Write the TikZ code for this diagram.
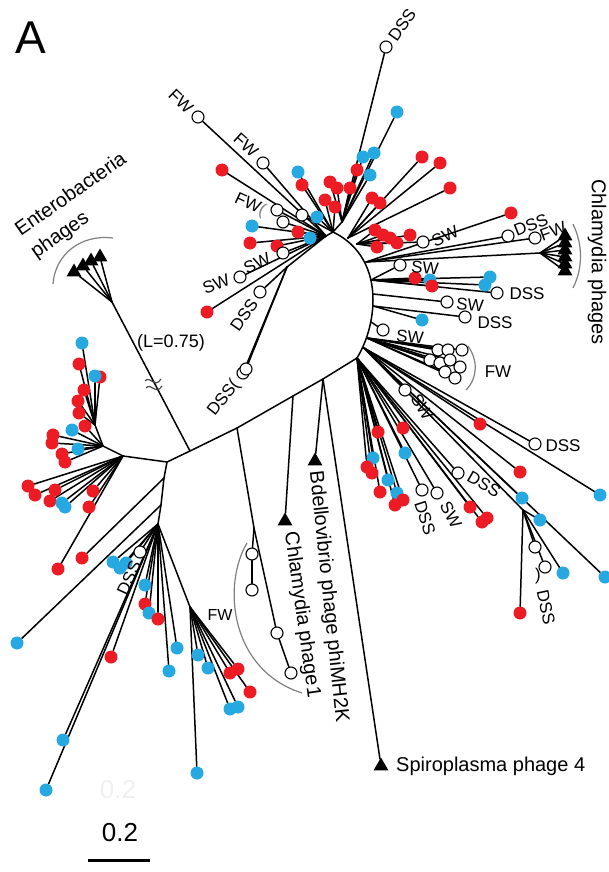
\documentclass[tikz,border=0pt]{standalone}
\usepackage{fontspec}
\setmainfont{Liberation Sans}
\usetikzlibrary{shapes.geometric,backgrounds}
\definecolor{TipRed}{RGB}{237,28,36}
\definecolor{TipBlue}{RGB}{38,169,224}
\pgfdeclarelayer{paper}
\pgfsetlayers{paper,background,main}

\begin{document}
\begin{tikzpicture}[x=1pt, y=-1pt,
    branch/.style={line width=1.5pt, line cap=round},
    rleaf/.style={circle, fill=TipRed, inner sep=0pt, minimum size=13pt},
    bleaf/.style={circle, fill=TipBlue, inner sep=0pt, minimum size=13pt},
    oleaf/.style={circle, draw, line width=1.1pt, fill=white, inner sep=0pt, minimum size=12pt},
    phage/.style={regular polygon, regular polygon sides=3, fill=black, inner sep=0pt, minimum size=17pt},
    tag/.style={font=\fontsize{17}{17}\selectfont, inner sep=0pt},
    biglab/.style={font=\fontsize{20}{27}\selectfont, inner sep=0pt},
    bracket/.style={draw=gray, line width=1.2pt},
]
\begin{pgfonlayer}{paper}
\fill[white] (0,0) rectangle (608,872);
\end{pgfonlayer}
\useasboundingbox (0,0) rectangle (608,872);

% backbone
\coordinate (e0) at (167,462);
\coordinate (e1) at (190,451);
\coordinate (e2) at (237,428);
\coordinate (e3) at (293,396);
\coordinate (e4) at (323,379);
\coordinate (e5) at (357,358);
\coordinate (a1) at (373,300);
\coordinate (a0) at (333,232);
\begin{scope}[on background layer]
\draw[branch] (e0) -- (e1) -- (e2) -- (e3) -- (e4) -- (e5);
\draw[branch] (e5) .. controls (368,340) and (373,318) .. (a1)
    .. controls (373,270) and (360,245) .. (a0);
\end{scope}

% hubs
\coordinate (t1) at (342,222);
\coordinate (t2) at (326,236);
\coordinate (t3) at (287,267);
\coordinate (ah1) at (348,238);
\coordinate (ah2) at (357,244);
\coordinate (ah3) at (366,262);
\coordinate (ah4) at (371,280);
\coordinate (ah5) at (373,294);
\coordinate (ah6) at (373,306);
\coordinate (ah7) at (371,322);
\coordinate (ah8) at (367,338);
\coordinate (ah9) at (364,348);
\coordinate (c2) at (523,510);
\coordinate (cp) at (540,253);
\coordinate (en) at (112,302);
\coordinate (l0) at (123,456);
\coordinate (u0) at (103,446);
\coordinate (u1) at (95,425);
\coordinate (m0) at (164,478);
\coordinate (m1) at (161,505);
\coordinate (m2) at (158,524);
\coordinate (m3) at (190,607);
\coordinate (f0) at (254,528);
\begin{scope}[on background layer]
\draw[branch] (a0) -- (t1);
\draw[branch] (a0) -- (t2) -- (t3);
\draw[branch] (ah9) -- (c2);
\draw[branch] (ah3) -- (cp);
\draw[branch] (e1) -- (en);
\draw[branch] (e0) -- (l0) -- (u0) -- (u1);
\draw[branch] (e0) -- (m0) -- (m1) -- (m2) -- (m3);
\draw[branch] (e2) -- (f0);
\end{scope}

% top fan
\foreach \px/\py/\col [count=\i] in {386/47/o, 397/112/b, 363/157/b, 374/153/b, 370/175/b,
    357/170/r, 350/188/r, 337/188/r, 330/182/r}{
  \node[\col leaf] (t1l\i) at (\px,\py) {};
  \begin{scope}[on background layer]\draw[branch] (t1) -- (t1l\i);\end{scope}
}
\foreach \px/\py/\col [count=\i] in {325/200/r, 335/207/r, 298/172/b, 302/185/r, 317/217/b, 302/215/o}{
  \node[\col leaf] (a0l\i) at (\px,\py) {};
  \begin{scope}[on background layer]\draw[branch] (a0) -- (a0l\i);\end{scope}
}
% top-left fan
\foreach \px/\py/\col [count=\i] in {198/117/o, 263/163/o, 222/170/r, 283/222/o, 277/210/o,
    252/226/b, 298/232/r, 310/238/b, 250/243/r, 277/246/r, 283/253/o, 240/277/o, 207/312/r}{
  \node[\col leaf] (t2l\i) at (\px,\py) {};
  \begin{scope}[on background layer]\draw[branch] (t2) -- (t2l\i);\end{scope}
}
\foreach \px/\py/\col [count=\i] in {260/292/o, 243/373/o, 246/369/o}{
  \node[\col leaf] (t3l\i) at (\px,\py) {};
  \begin{scope}[on background layer]\draw[branch] (t3) -- (t3l\i);\end{scope}
}

% right fan along the arc
\foreach \px/\py/\col [count=\i] in {422/157/r, 440/163/r, 450/188/r, 372/198/r, 380/203/r}{
  \node[\col leaf] (h1l\i) at (\px,\py) {};
  \begin{scope}[on background layer]\draw[branch] (ah1) -- (h1l\i);\end{scope}
}
\foreach \px/\py/\col [count=\i] in {410/235/r, 397/243/r, 390/238/r, 383/235/r, 375/230/r, 377/247/r, 423/242/o}{
  \node[\col leaf] (h2l\i) at (\px,\py) {};
  \begin{scope}[on background layer]\draw[branch] (ah2) -- (h2l\i);\end{scope}
}
\foreach \px/\py/\col [count=\i] in {511/213/r, 508/236/o, 535/238/o}{
  \node[\col leaf] (h3l\i) at (\px,\py) {};
  \begin{scope}[on background layer]\draw[branch] (ah3) -- (h3l\i);\end{scope}
}
\foreach \py [count=\i] in {236,243,250,257,264,271}{
  \node[phage] (chp\i) at (565,\py) {};
  \begin{scope}[on background layer]\draw[branch] (cp) -- (chp\i);\end{scope}
}
\foreach \px/\py/\col [count=\i] in {400/265/o, 415/278/r, 430/280/b, 432/286/r, 490/277/b, 485/285/b, 497/293/o}{
  \node[\col leaf] (h4l\i) at (\px,\py) {};
  \begin{scope}[on background layer]\draw[branch] (ah4) -- (h4l\i);\end{scope}
}
\node[oleaf] (h5l1) at (447,302) {};
\node[bleaf] (h6l1) at (422,320) {};
\node[oleaf] (h6l2) at (465,317) {};
\node[oleaf] (h7l1) at (383,330) {};
\begin{scope}[on background layer]
\draw[branch] (ah5) -- (h5l1);
\draw[branch] (ah6) -- (h6l1);
\draw[branch] (ah6) -- (h6l2);
\draw[branch] (ah7) -- (h7l1);
\end{scope}
\foreach \px/\py [count=\i] in {430/360, 438/350, 448/350, 462/350, 440/363, 450/360, 460/367, 445/372, 455/378}{
  \node[oleaf] (h8l\i) at (\px,\py) {};
  \begin{scope}[on background layer]\draw[branch] (ah8) -- (h8l\i);\end{scope}
}
\foreach \px/\py/\col [count=\i] in {405/390/o, 480/424/r, 535/444/o, 600/495/b, 520/472/r, 522/498/b, 605/577/b}{
  \node[\col leaf] (h9l\i) at (\px,\py) {};
  \begin{scope}[on background layer]\draw[branch] (ah9) -- (h9l\i);\end{scope}
}
\foreach \px/\py/\col [count=\i] in {540/520/b, 535/547/o, 545/567/o, 563/573/b, 520/613/r}{
  \node[\col leaf] (c2l\i) at (\px,\py) {};
  \begin{scope}[on background layer]\draw[branch] (c2) -- (c2l\i);\end{scope}
}
\foreach \px/\py/\col [count=\i] in {378/432/r, 403/428/r, 405/453/b, 373/458/b, 367/467/r, 372/473/r,
    388/480/b, 397/493/b, 380/492/r, 395/505/r, 403/500/r, 422/490/o, 437/493/o, 458/473/o,
    470/507/r, 487/518/r, 482/522/r}{
  \node[\col leaf] (e5l\i) at (\px,\py) {};
  \begin{scope}[on background layer]\draw[branch] (e5) -- (e5l\i);\end{scope}
}

% left cluster
\foreach \px/\py/\col [count=\i] in {82/343/b, 79/364/r, 100/377/r, 95/376/b, 84/390/r, 78/401/r, 79/413/r}{
  \node[\col leaf] (u1l\i) at (\px,\py) {};
  \begin{scope}[on background layer]\draw[branch] (u1) -- (u1l\i);\end{scope}
}
\foreach \px/\py/\col [count=\i] in {85/426/r, 72/430/b, 53/435/r, 52/443/r, 78/449/b, 62/454/r, 65/462/r}{
  \node[\col leaf] (u0l\i) at (\px,\py) {};
  \begin{scope}[on background layer]\draw[branch] (u0) -- (u0l\i);\end{scope}
}
\foreach \px/\py/\col [count=\i] in {28/486/r, 35/495/r, 55/490/r, 50/501/r, 62/503/b, 65/507/b,
    93/491/r, 89/507/r, 58/569/r}{
  \node[\col leaf] (l0l\i) at (\px,\py) {};
  \begin{scope}[on background layer]\draw[branch] (l0) -- (l0l\i);\end{scope}
}

% lower fan
\node[rleaf] (m0l1) at (82,558) {};
\node[bleaf] (m1l1) at (17,643) {};
\begin{scope}[on background layer]
\draw[branch] (m0) -- (m0l1);
\draw[branch] (m1) -- (m1l1);
\end{scope}
\foreach \px/\py/\col [count=\i] in {140/552/o, 113/562/b, 126/563/b, 120/568/b, 145/585/b, 145/604/r,
    149/613/b, 158/619/r, 177/648/b, 169/671/b, 111/657/r, 63/740/b, 46/790/b}{
  \node[\col leaf] (m2l\i) at (\px,\py) {};
  \begin{scope}[on background layer]\draw[branch] (m2) -- (m2l\i);\end{scope}
}
\foreach \px/\py/\col [count=\i] in {198/655/b, 208/668/b, 230/673/r, 238/669/r, 250/692/r,
    230/709/b, 238/707/b, 197/773/b}{
  \node[\col leaf] (m3l\i) at (\px,\py) {};
  \begin{scope}[on background layer]\draw[branch] (m3) -- (m3l\i);\end{scope}
}

% FW chain
\node[oleaf] (fw1c) at (252,554) {};
\node[oleaf] (fw2c) at (252,590) {};
\node[oleaf] (fw3c) at (277,633) {};
\node[oleaf] (fw4c) at (291,673) {};
\draw[branch] (f0) -- (fw1c);
\draw[branch] (fw1c) -- (fw2c);
\draw[branch] (f0) -- (fw3c);
\draw[branch] (fw3c) -- (fw4c);

% phage reference tips
\node[phage] (bd) at (315,461) {};
\node[phage] (ch1) at (285,521) {};
\node[phage] (spt) at (381,766) {};
\begin{scope}[on background layer]
\draw[branch] (e3) -- (ch1);
\draw[branch] (e4) -- (bd);
\draw[branch] (e4) -- (spt);
\end{scope}
\foreach \px/\py [count=\i] in {74/272, 83/266, 91/261, 100/257}{
  \node[phage] (ent\i) at (\px,\py) {};
  \begin{scope}[on background layer]\draw[branch] (en) -- (ent\i);\end{scope}
}

% brackets and break marks
\draw[bracket] (53,284) .. controls (55,255) and (80,234) .. (113,238);
\draw[bracket] (573,224) .. controls (583,245) and (583,268) .. (573,288);
\draw[bracket] (468,346) .. controls (478,360) and (478,378) .. (466,390);
\draw[bracket] (247,543) .. controls (222,585) and (230,670) .. (302,693);
\draw[black!75, line width=1.1pt] (145,381) .. controls (150,375) and (155,389) .. (161,379);
\draw[black!75, line width=1.1pt] (146,388) .. controls (151,382) and (156,396) .. (162,386);

% tip labels
\node[tag, rotate=-44] (fwa) at (181,101) {FW};
\node[tag, rotate=-42] (fwb) at (246,145) {FW};
\node[tag, rotate=-25] (fwc) at (250,205) {FW\textcolor{gray}{(}};
\node[tag, rotate=25] (swa) at (257,263) {SW};
\node[tag, rotate=22] (swb) at (216,284) {SW};
\node[tag, rotate=55] (dssa) at (244,315) {DSS};
\node[tag, rotate=52] (dssb) at (224,398) {DSS(};
\node[tag, rotate=55] (dssc) at (402,25) {DSS};
\node[tag, rotate=25] (swc) at (445,236) {SW};
\node[tag, rotate=22] (dssd) at (531,225) {DSS};
\node[tag, rotate=20] (fwd) at (553,231) {FW};
\node[tag, rotate=-5] (swd) at (425,268) {SW};
\node[tag] (dsse) at (527,294) {DSS};
\node[tag, rotate=-5] (swe) at (470,305) {SW};
\node[tag] (dssf) at (495,323) {DSS};
\node[tag, rotate=-5] (swf) at (410,337) {SW};
\node[tag] (fwe) at (498,372) {FW};
\node[tag, rotate=-60] (swg) at (422,407) {SW};
\node[tag] (dssg) at (563,446) {DSS};
\node[tag, rotate=-30] (dssh) at (484,484) {DSS};
\node[tag, rotate=-72] (dssi) at (425,518) {DSS};
\node[tag, rotate=-62] (swh) at (451,515) {SW};
\node[tag] (parr) at (538,576) {)};
\node[tag, rotate=-78] (dssj) at (546,607) {DSS};
\node[tag, rotate=65] (dssk) at (129,578) {DSS};
\node[tag, font=\fontsize{16}{16}\selectfont] (fwf) at (220,615) {FW};
\node[tag, font=\fontsize{18}{18}\selectfont] (lbrk) at (171,343) {(L=0.75)};

% group labels
\node[biglab, rotate=35, align=left] (entlab) at (79,206) {Enterobacteria\\phages};
\node[biglab, rotate=-90] (chlab) at (597,262) {Chlamydia phages};
\node[biglab, rotate=-84, anchor=west] (bdlab) at (315,471) {Bdellovibrio phage phiMH2K};
\node[biglab, rotate=-82, anchor=west] (ch1lab) at (290,532) {Chlamydia phage1};
\node[biglab, anchor=west] (splab) at (396,766) {Spiroplasma phage 4};
\node[font=\fontsize{46}{46}\selectfont] (panel) at (31,38) {A};

% scale bar
\coordinate (sbl) at (88,860);
\coordinate (sbr) at (150,860);
\draw[line width=3pt] (sbl) -- (sbr);
\node[font=\fontsize{26}{26}\selectfont] (sbtxt) at (120,833) {0.2};
\node[font=\fontsize{26}{26}\selectfont, text=black!6] (sbghost) at (118,790) {0.2};
\end{tikzpicture}
\end{document}
